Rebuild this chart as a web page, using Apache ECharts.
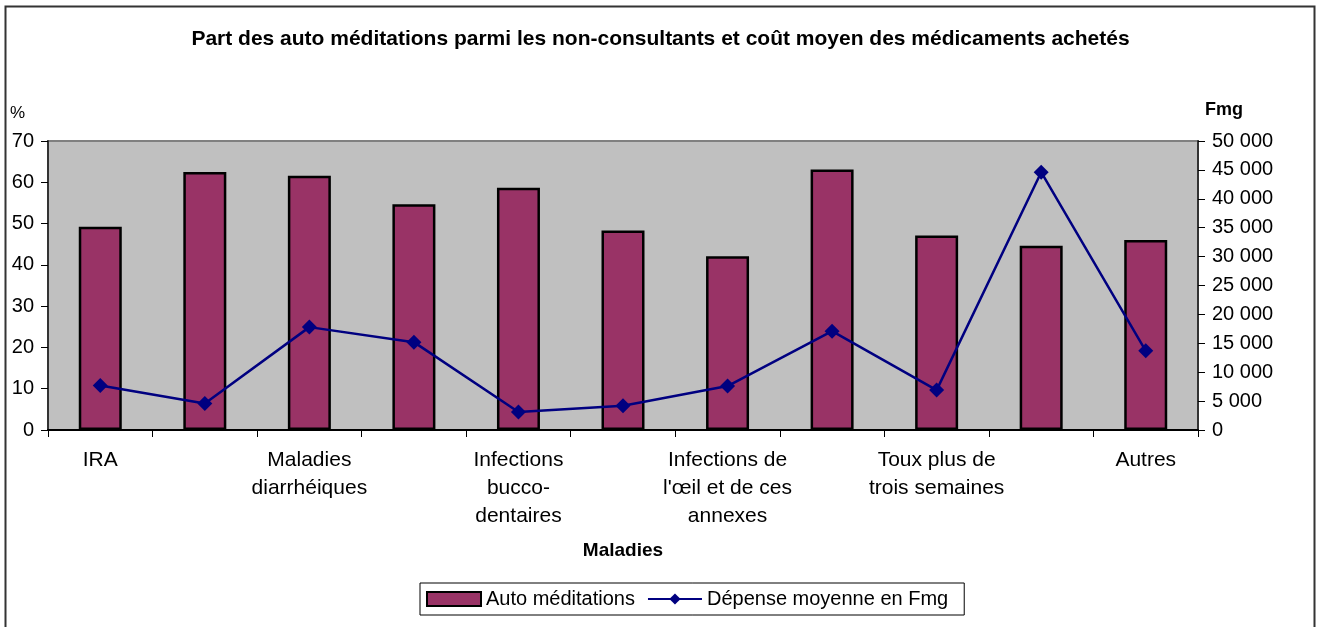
<!DOCTYPE html>
<html>
<head>
<meta charset="utf-8">
<script src="https://cdn.jsdelivr.net/npm/echarts@6/dist/echarts.min.js"></script>
<style>
  html, body { margin: 0; padding: 0; background: #fff; }
  #main { width: 1321px; height: 627px; }
</style>
</head>
<body>
<div id="main"></div>
<script>
// categories (only every other one is labelled in the source)
var categories = ['IRA', '', 'Maladies\ndiarrhéiques', '', 'Infections\nbucco-\ndentaires', '',
    'Infections de\nl\'œil et de ces\nannexes', '', 'Toux plus de\ntrois semaines', '', 'Autres'];
// % auto médications
var autoMed = [49.2, 62.5, 61.6, 54.7, 58.7, 48.3, 42.1, 63.1, 47.1, 44.6, 46.0];
// dépense moyenne en Fmg
var depense = [7700, 4600, 17800, 15200, 3100, 4200, 7600, 17100, 6900, 44600, 13700];
var leftTicks = [0, 70, 10];
var rightTicks = [0, 50000, 5000];

var chart = echarts.init(document.getElementById('main'));

var font = 'Arial, "Liberation Sans", sans-serif';

var option = {
    backgroundColor: '#fff',
    animation: false,
    textStyle: { fontFamily: font, color: '#000' },
    title: {
        text: 'Part des auto méditations parmi les non-consultants et coût moyen des médicaments achetés',
        left: 'center',
        top: 24,
        textStyle: { fontSize: 21, fontWeight: 'bold', color: '#000', fontFamily: font }
    },
    graphic: [
        {
            type: 'rect',
            shape: { x: 5.5, y: 6.5, width: 1309, height: 640 },
            style: { fill: null, stroke: '#333', lineWidth: 2 },
            silent: true
        },
        {
            type: 'text', left: 10, top: 105,
            style: { text: '%', font: '17px ' + font, fill: '#000' }
        },
        {
            type: 'text', left: 1205, top: 101,
            style: { text: 'Fmg', font: 'bold 18px ' + font, fill: '#000' }
        }
    ],
    legend: {
        left: 420,
        top: 583,
        padding: [6, 16, 6, 6],
        itemGap: 12,
        itemWidth: 54,
        itemHeight: 14,
        itemTextGap: 6,
        borderColor: '#000',
        borderWidth: 1,
        textStyle: { fontSize: 20, color: '#000', fontFamily: font },
        data: [
            { name: 'Auto méditations', icon: 'rect' },
            { name: 'Dépense moyenne en Fmg' }
        ]
    },
    grid: {
        left: 48,
        right: 123,
        top: 141,
        bottom: 197,
        show: true,
        backgroundColor: '#c0c0c0',
        borderColor: '#808080',
        borderWidth: 2
    },
    xAxis: {
        type: 'category',
        data: categories,
        name: 'Maladies',
        nameLocation: 'middle',
        nameGap: 111,
        nameTextStyle: { fontSize: 19, fontWeight: 'bold', color: '#000', fontFamily: font },
        axisLine: { lineStyle: { color: '#000', width: 2 } },
        axisTick: { show: true, interval: 0, length: 7, lineStyle: { color: '#000' } },
        axisLabel: {
            interval: 0,
            fontSize: 21,
            lineHeight: 28,
            margin: 16,
            color: '#000',
            fontFamily: font
        }
    },
    yAxis: [
        {
            type: 'value',
            min: leftTicks[0],
            max: leftTicks[1],
            interval: leftTicks[2],
            splitLine: { show: false },
            axisLine: { show: true, lineStyle: { color: '#333', width: 2 } },
            axisTick: { show: true, length: 7, lineStyle: { color: '#000' } },
            axisLabel: { fontSize: 20, color: '#000', margin: 14, fontFamily: font }
        },
        {
            type: 'value',
            min: rightTicks[0],
            max: rightTicks[1],
            interval: rightTicks[2],
            splitLine: { show: false },
            axisLine: { show: true, lineStyle: { color: '#333', width: 2 } },
            axisTick: { show: true, length: 7, lineStyle: { color: '#000' } },
            axisLabel: {
                fontSize: 20, color: '#000', margin: 14, fontFamily: font,
                formatter: function (v) {
                    return String(v).replace(/\B(?=(\d{3})+(?!\d))/g, ' ');
                }
            }
        }
    ],
    series: [
        {
            name: 'Auto méditations',
            type: 'bar',
            yAxisIndex: 0,
            barWidth: 43,
            data: autoMed,
            itemStyle: { color: '#993366', borderColor: '#000', borderWidth: 2.5 }
        },
        {
            name: 'Dépense moyenne en Fmg',
            type: 'line',
            yAxisIndex: 1,
            data: depense,
            symbol: 'diamond',
            symbolSize: 15,
            lineStyle: { color: '#000080', width: 2.5 },
            itemStyle: { color: '#000080' }
        }
    ]
};

chart.setOption(option);
</script>
</body>
</html>
